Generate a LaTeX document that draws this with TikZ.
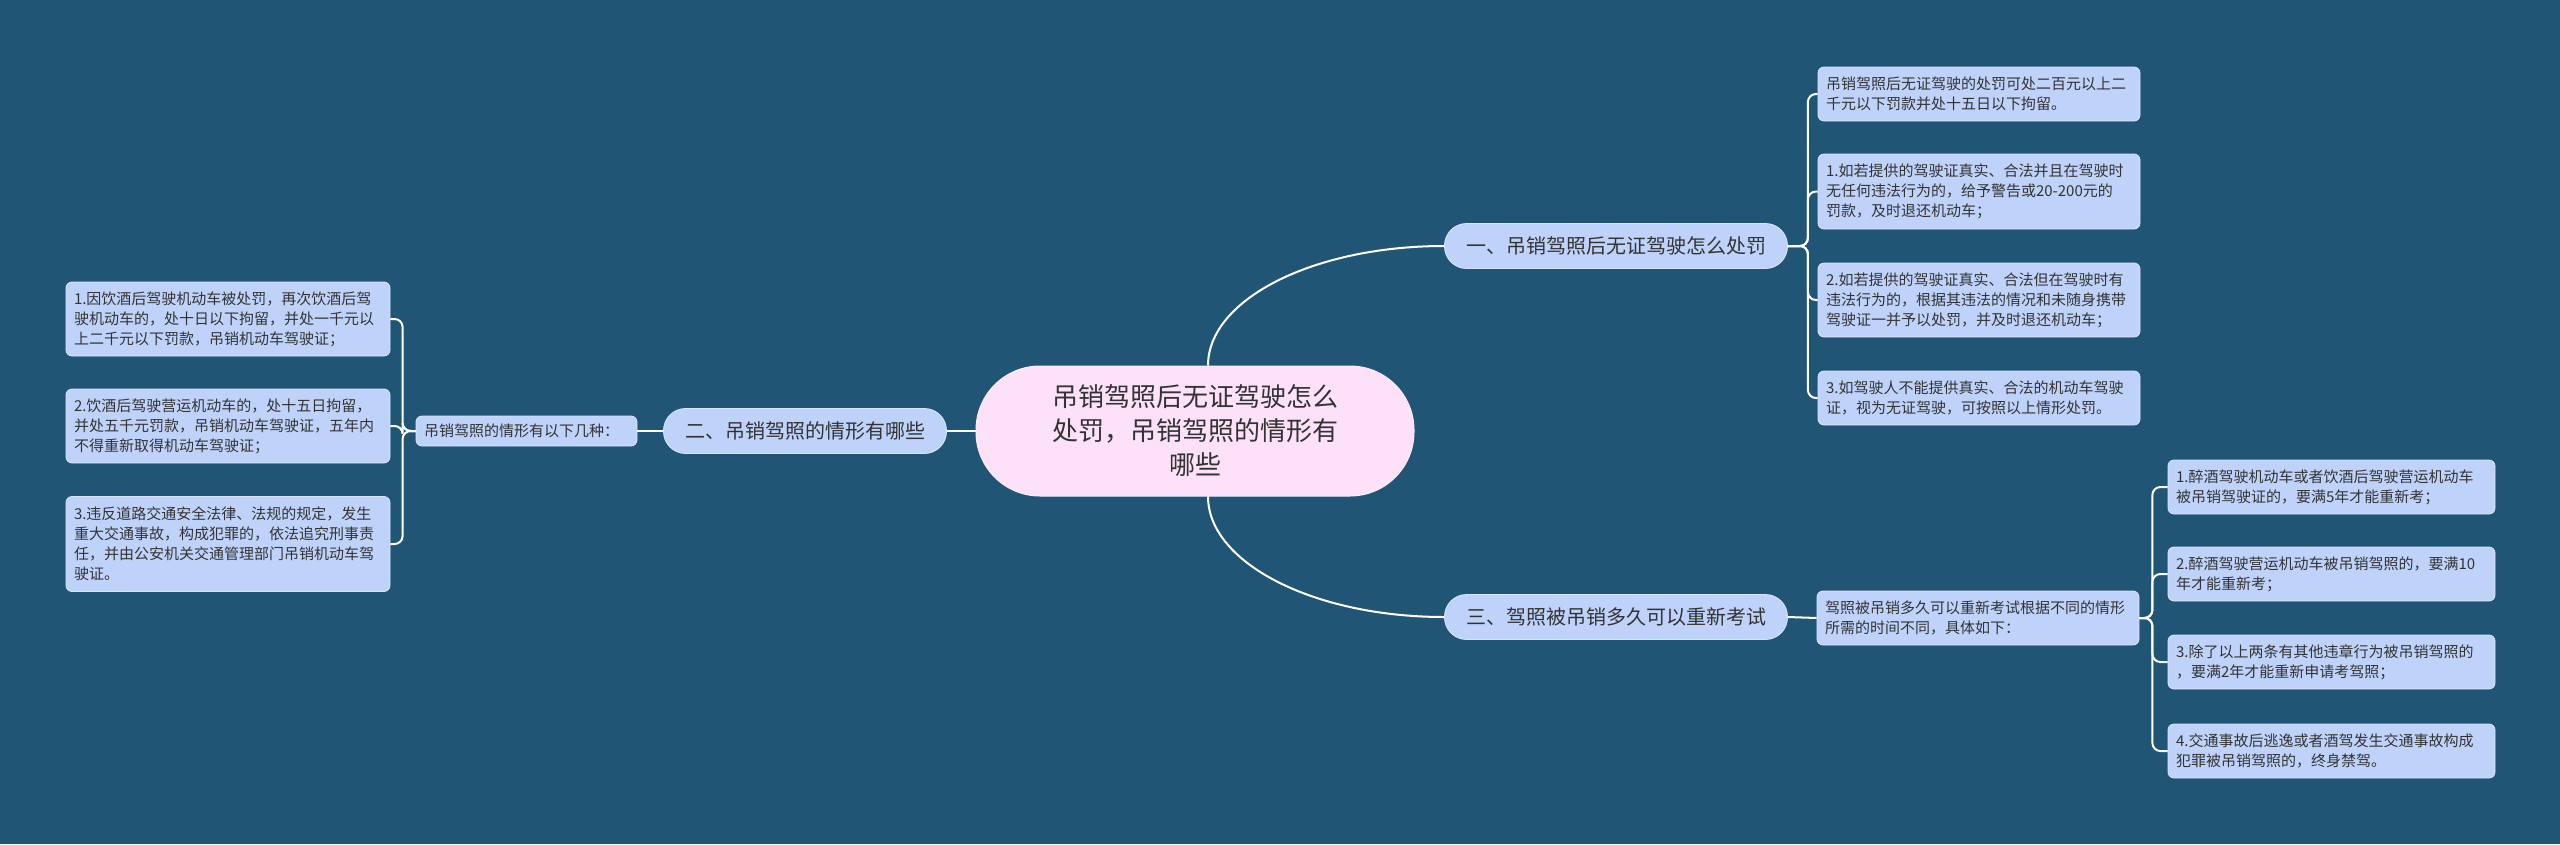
\documentclass[tikz,border=0pt]{standalone}
\usepackage{fontspec}
\setmainfont{Noto Sans CJK SC}
\definecolor{bg}{HTML}{215575}
\definecolor{nodefill}{HTML}{BFD3FA}
\definecolor{rootfill}{HTML}{FCE1F9}
\definecolor{txt}{HTML}{333333}
\begin{document}
\begin{tikzpicture}[x=1pt,y=-1pt,
  conn/.style={draw=white, line width=2pt},
  bracket/.style={conn, rounded corners=8pt},
  leaf/.style={draw=nodefill!60!white, line width=0.8pt, fill=nodefill, rounded corners=6pt,
    align=left, inner xsep=8pt, inner ysep=0pt, font=\fontsize{15}{20}\selectfont, text=txt},
  branch/.style={draw=nodefill!60!white, line width=0.8pt, fill=nodefill, rounded corners=22pt,
    align=center, inner sep=0pt, minimum height=45, font=\fontsize{20}{24}\selectfont, text=txt},
  root/.style={draw=rootfill!60!white, line width=1pt, fill=rootfill, rounded corners=64pt,
    align=center, inner sep=0pt, minimum width=438, minimum height=130,
    font=\fontsize{26}{34}\selectfont, text=txt}
]
\useasboundingbox (0,0) rectangle (2560,844);
\fill[bg] (0,0) rectangle (2560,844);

% root and branches
\node[root] (c) at (1195,431) {吊销驾照后无证驾驶怎么\\处罚，吊销驾照的情形有\\哪些};
\node[branch, minimum width=343] (b1) at (1616,246) {一、吊销驾照后无证驾驶怎么处罚};
\node[branch, minimum width=343] (b3) at (1616,617) {三、驾照被吊销多久可以重新考试};
\node[branch, minimum width=283] (b2) at (805,431) {二、吊销驾照的情形有哪些};

% right top leaves
\node[leaf, text width=306, minimum height=54] (r1) at (1979,94) {吊销驾照后无证驾驶的处罚可处二百元以上二\\千元以下罚款并处十五日以下拘留。};
\node[leaf, text width=306, minimum height=75] (r2) at (1979,191.5) {1.如若提供的驾驶证真实、合法并且在驾驶时\\无任何违法行为的，给予警告或20-200元的\\罚款，及时退还机动车；};
\node[leaf, text width=306, minimum height=74] (r3) at (1979,300) {2.如若提供的驾驶证真实、合法但在驾驶时有\\违法行为的，根据其违法的情况和未随身携带\\驾驶证一并予以处罚，并及时退还机动车；};
\node[leaf, text width=306, minimum height=54] (r4) at (1979,398) {3.如驾驶人不能提供真实、合法的机动车驾驶\\证，视为无证驾驶，可按照以上情形处罚。};

% left
\node[leaf, text width=205, minimum height=30] (lm) at (526.5,431) {吊销驾照的情形有以下几种：};
\node[leaf, text width=308, minimum height=74] (l1) at (228,319) {1.因饮酒后驾驶机动车被处罚，再次饮酒后驾\\驶机动车的，处十日以下拘留，并处一千元以\\上二千元以下罚款，吊销机动车驾驶证；};
\node[leaf, text width=308, minimum height=74] (l2) at (228,426) {2.饮酒后驾驶营运机动车的，处十五日拘留，\\并处五千元罚款，吊销机动车驾驶证，五年内\\不得重新取得机动车驾驶证；};
\node[leaf, text width=308, minimum height=95] (l3) at (228,544) {3.违反道路交通安全法律、法规的规定，发生\\重大交通事故，构成犯罪的，依法追究刑事责\\任，并由公安机关交通管理部门吊销机动车驾\\驶证。};

% right bottom
\node[leaf, text width=306, minimum height=54] (rm) at (1978,618) {驾照被吊销多久可以重新考试根据不同的情形\\所需的时间不同，具体如下：};
\node[leaf, text width=311, minimum height=54] (q1) at (2331.5,487) {1.醉酒驾驶机动车或者饮酒后驾驶营运机动车\\被吊销驾驶证的，要满5年才能重新考；};
\node[leaf, text width=311, minimum height=54] (q2) at (2331.5,574) {2.醉酒驾驶营运机动车被吊销驾照的，要满10\\年才能重新考；};
\node[leaf, text width=311, minimum height=54] (q3) at (2331.5,662) {3.除了以上两条有其他违章行为被吊销驾照的\\，要满2年才能重新申请考驾照；};
\node[leaf, text width=311, minimum height=54] (q4) at (2331.5,751) {4.交通事故后逃逸或者酒驾发生交通事故构成\\犯罪被吊销驾照的，终身禁驾。};

% connectors
\draw[conn] ([xshift=13pt]c.north) .. controls +(0,-66) and +(-131,0) .. (b1.west);
\draw[conn] ([xshift=13pt]c.south) .. controls +(0,66) and +(-131,0) .. (b3.west);
\draw[conn] (c.west) -- (b2.east);
\draw[conn] (b2.west) -- (lm.east);
\draw[conn] (b3.east) -- (rm.west);
\foreach \n in {r1,r2,r3,r4} \draw[bracket] (b1.east) -- ++(20,0) |- (\n.west);
\foreach \n in {q1,q2,q3,q4} \draw[bracket] (rm.east) -- ++(13,0) |- (\n.west);
\foreach \n in {l1,l2,l3} \draw[bracket] (lm.west) -- ++(-13,0) |- (\n.east);
\end{tikzpicture}
\end{document}
